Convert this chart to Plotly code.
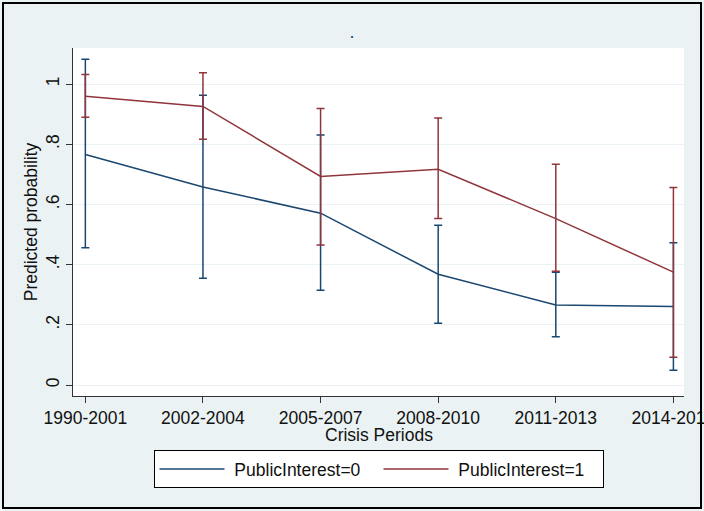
import plotly.graph_objects as go

# Crisis periods on the x axis
periods = ["1990-2001", "2002-2004", "2005-2007", "2008-2010", "2011-2013", "2014-2016"]

# Predicted probabilities with 95% confidence limits
pi0_mean = [0.766, 0.658, 0.571, 0.368, 0.266, 0.261]
pi0_lower = [0.456, 0.355, 0.315, 0.205, 0.160, 0.049]
pi0_upper = [1.083, 0.963, 0.831, 0.531, 0.375, 0.473]

pi1_mean = [0.960, 0.926, 0.693, 0.717, 0.553, 0.375]
pi1_lower = [0.890, 0.817, 0.465, 0.553, 0.378, 0.092]
pi1_upper = [1.032, 1.038, 0.919, 0.887, 0.734, 0.656]

y_ticks = [0, 0.2, 0.4, 0.6, 0.8, 1]
y_ticktext = ["0", ".2", ".4", ".6", ".8", "1"]

NAVY = "#1a476f"
MAROON = "#90353b"
BG = "#eaf2f3"
FONT = "Liberation Sans, Arial, sans-serif"
FS = 17.5

W, H = 704, 511
L, R, T, B = 73, 20, 48, 115


def series(mean, lower, upper, color, name):
    xs = list(range(len(periods)))
    return go.Scatter(
        x=xs, y=mean, name="\u00a0" + name, mode="lines",
        line=dict(color=color, width=1.5),
        error_y=dict(
            type="data", symmetric=False,
            array=[u - m for u, m in zip(upper, mean)],
            arrayminus=[m - lo for m, lo in zip(mean, lower)],
            color=color, thickness=1.5, width=4,
        ),
    )


fig = go.Figure()
fig.add_trace(series(pi0_mean, pi0_lower, pi0_upper, NAVY, "PublicInterest=0"))
fig.add_trace(series(pi1_mean, pi1_lower, pi1_upper, MAROON, "PublicInterest=1"))

pw, ph = W - L - R, H - T - B

fig.update_layout(
    width=W, height=H,
    margin=dict(l=L, r=R, t=T, b=B, pad=0, autoexpand=False),
    paper_bgcolor=BG, plot_bgcolor="white",
    font=dict(family=FONT, size=FS, color="#111111"),
    title=dict(text=".", x=0.5, xref="container", xanchor="center",
               y=1 - 32 / H, yanchor="middle",
               font=dict(size=18, color=NAVY)),
    xaxis=dict(
        range=[-0.105, 5.09], automargin=False,
        tickvals=list(range(len(periods))), ticktext=periods,
        ticklabeloverflow="allow",
        showgrid=False, zeroline=False,
        showline=True, linecolor="#333333", linewidth=1.2,
        ticks="outside", ticklen=6, tickcolor="#333333",
        tickfont=dict(size=FS),
    ),
    yaxis=dict(
        range=[-0.0365, 1.12], automargin=False,
        tickvals=y_ticks, ticktext=y_ticktext, tickangle=-90,
        showgrid=True, gridcolor=BG, gridwidth=1,
        zeroline=False,
        showline=True, linecolor="#333333", linewidth=1.2,
        ticks="outside", ticklen=6, tickcolor="#333333",
        tickfont=dict(size=FS),
        title=dict(text="Predicted probability", standoff=0, font=dict(size=FS)),
    ),
    annotations=[dict(
        text="Crisis Periods", xref="paper", yref="paper",
        x=0.5, y=(396 - 434.5) / ph, xanchor="center", yanchor="middle",
        showarrow=False, font=dict(size=FS),
    )],
    showlegend=True,
    legend=dict(
        orientation="h", x=0.5, xanchor="center",
        y=(396 - 450) / ph, yanchor="top",
        bgcolor="white", bordercolor="black", borderwidth=1,
        font=dict(size=FS), itemwidth=65,
        entrywidth=144, entrywidthmode="pixels",
    ),
    shapes=[dict(
        type="rect", xref="paper", yref="paper",
        x0=(3 - L) / pw, x1=(701 - L) / pw,
        y0=(H - B - 508) / ph, y1=(H - B - 3) / ph,
        line=dict(color="black", width=2), fillcolor="rgba(0,0,0,0)",
        layer="above",
    )],
)

fig.write_html("out.html")
